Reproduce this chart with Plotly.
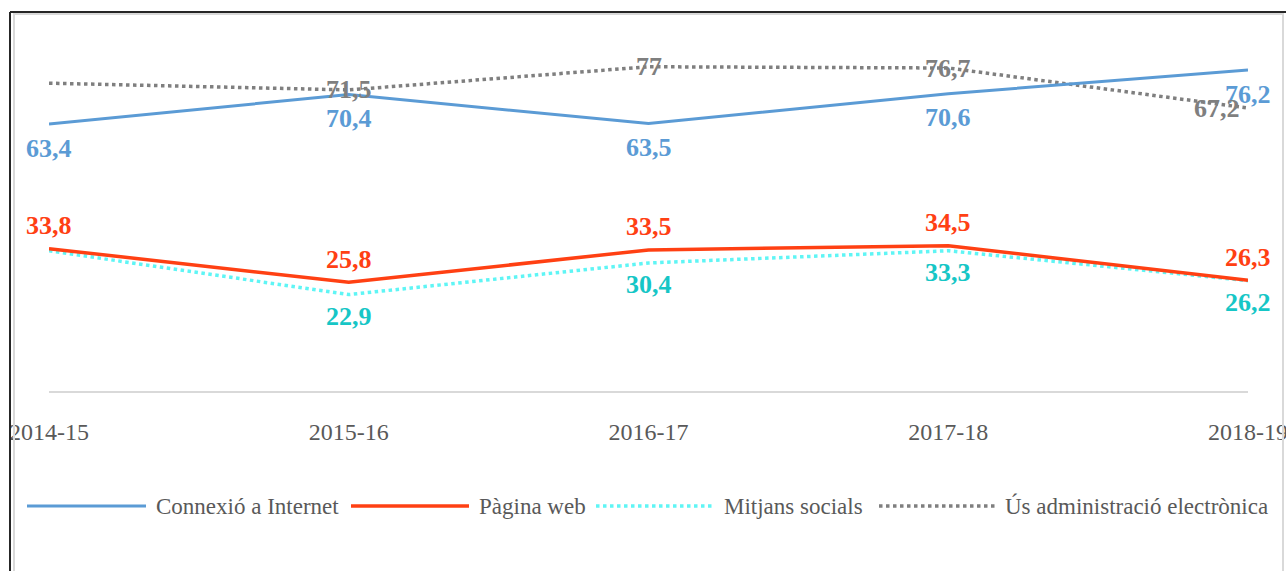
import plotly.graph_objects as go

# Curs escolar
years = ["2014-15", "2015-16", "2016-17", "2017-18", "2018-19"]

# % de centres
connexio = [63.4, 70.4, 63.5, 70.6, 76.2]
pagina_web = [33.8, 25.8, 33.5, 34.5, 26.3]
mitjans = [33.3, 22.9, 30.4, 33.3, 26.2]
administracio = [73.1, 71.5, 77.0, 76.7, 67.2]

# quins punts porten etiqueta (el primer de mitjans i administracio no en te)
show_mitjans = [False, True, True, True, True]
show_admin = [False, True, True, True, True]

names = ["Connexió a Internet", "Pàgina web", "Mitjans socials", "Ús administració electrònica"]

SERIF = "Liberation Serif, Times New Roman, serif"
TEXT_GREY = "#595959"

# plot area in pixels, used to place the frame and the hand drawn legend
L, R, T, B = 49, 38, 12, 180
W, H = 1286, 571
PW, PH = W - L - R, H - T - B


def px(x):
    return (x - L) / PW


def py(y):
    return (H - B - y) / PH


def fmt(v):
    return f"{v:g}".replace(".", ",")


series = [
    # values, name, line colour, width, dash, label colour, label shift, flags
    (connexio, names[0], "#5B9BD5", 3, "solid", "#5B9BD5", -24, None),
    (pagina_web, names[1], "#FF4013", 3.5, "solid", "#FF4013", 23, None),
    (mitjans, names[2], "#5FF5F5", 3.5, "dot", "#16C6C6", -22, show_mitjans),
    (administracio, names[3], "#7F7F7F", 3.5, "dot", "#7F7F7F", 0, show_admin),
]

fig = go.Figure()

# draw order like the original: admin behind, then mitjans, web, connexio
for vals, name, col, lw, dash, lcol, shift, flags in [series[3], series[2], series[1], series[0]]:
    fig.add_trace(go.Scatter(
        x=years, y=vals, name=name, mode="lines",
        line=dict(color=col, width=lw, dash=dash),
        showlegend=False, hoverinfo="x+y+name",
    ))

annotations = []
for vals, name, col, lw, dash, lcol, shift, flags in series:
    for i, (yr, v) in enumerate(zip(years, vals)):
        if flags is not None and not flags[i]:
            continue
        xshift = 0
        if name == names[3] and i == len(years) - 1:
            xshift = -31
        annotations.append(dict(
            x=yr, y=v, xref="x", yref="y", text=fmt(v), showarrow=False,
            xshift=xshift, yshift=shift,
            font=dict(family=SERIF, size=26, color=lcol, weight="bold"),
        ))

# legend drawn by hand so the sample lines are as long as in the original
legend_items = [
    (names[0], "#5B9BD5", 3, "solid", 27, 146),
    (names[1], "#FF4013", 3.5, "solid", 351, 469),
    (names[2], "#5FF5F5", 3.5, "dot", 596, 714),
    (names[3], "#7F7F7F", 3.5, "dot", 879, 995),
]
shapes = []
legend_y = 506
for name, col, lw, dash, x0, x1 in legend_items:
    shapes.append(dict(
        type="line", xref="paper", yref="paper",
        x0=px(x0), x1=px(x1), y0=py(legend_y), y1=py(legend_y),
        line=dict(color=col, width=lw, dash=dash),
    ))
    annotations.append(dict(
        x=px(x1 + 8), y=py(legend_y), xref="paper", yref="paper",
        text=name, showarrow=False, xanchor="left", yanchor="middle",
        font=dict(family=SERIF, size=23, color=TEXT_GREY),
    ))

# chart frame: dark outer edge and light inner border
shapes.append(dict(type="line", xref="paper", yref="paper",
                   x0=px(10), x1=px(W + 5), y0=py(12), y1=py(12),
                   line=dict(color="#262626", width=2)))
shapes.append(dict(type="line", xref="paper", yref="paper",
                   x0=px(10), x1=px(10), y0=py(12), y1=py(H + 5),
                   line=dict(color="#262626", width=2)))
shapes.append(dict(type="rect", xref="paper", yref="paper",
                   x0=px(14), x1=px(1283), y0=py(14), y1=py(H + 5),
                   line=dict(color="#D9D9D9", width=2), fillcolor="rgba(0,0,0,0)"))

fig.update_layout(
    width=W, height=H,
    margin=dict(l=L, r=R, t=T, b=B),
    paper_bgcolor="white", plot_bgcolor="white",
    showlegend=False,
    annotations=annotations,
    shapes=shapes,
    font=dict(family=SERIF, color=TEXT_GREY),
)

fig.update_xaxes(
    type="category", range=[0, len(years) - 1],
    showgrid=False, zeroline=False, automargin=False,
    showline=True, linecolor="#D9D9D9", linewidth=1.5,
    ticks="", ticklabelstandoff=18,
    tickfont=dict(family=SERIF, size=24, color=TEXT_GREY),
)
fig.update_yaxes(
    range=[0, 90], showgrid=False, zeroline=False, automargin=False,
    showticklabels=False, showline=False,
)

fig.write_html("out.html", config={"displayModeBar": False},
               post_script="document.body.style.margin='0';")
